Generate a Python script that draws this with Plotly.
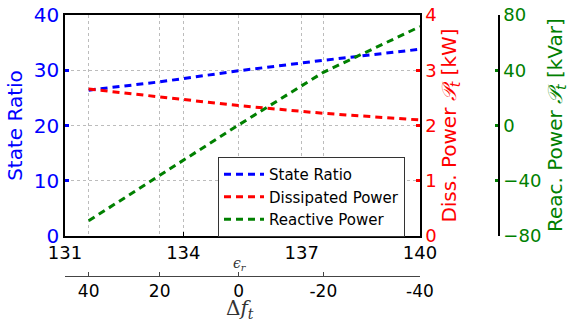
import plotly.graph_objects as go

# ---- data ----
eps_r = [131.6, 133.4, 135.4, 137.55, 140.0]          # epsilon_r sample points
state_ratio = [26.4, 27.9, 29.9, 31.8, 33.8]
diss_power = [2.66, 2.52, 2.36, 2.22, 2.10]           # kW
reactive_power = [-69, -36, 0.4, 38.5, 71.6]          # kVar

eps_ticks = [131, 134, 137, 140]
df_tick_eps = [131.6, 133.4, 135.4, 137.55, 140.0]
df_tick_labels = ["40", "20", "0", "-20", "-40"]

BLUE, RED, GREEN = "#0000ff", "#ff0000", "#008000"
FONT = "DejaVu Sans"

W, H = 569, 324
ml, mr, mt, mb = 65, 0, 15, 48
pw = W - ml - mr
ph = H - mt - mb
x_dom_end = (420 - ml) / pw
y_dom_start = (276 - 236) / ph
green_pos = (499 - ml) / pw

dash = "7px,5px"
fig = go.Figure()
fig.add_trace(go.Scatter(x=eps_r, y=state_ratio, mode="lines", name="State Ratio",
                         line=dict(color=BLUE, width=3, dash=dash), xaxis="x", yaxis="y"))
fig.add_trace(go.Scatter(x=eps_r, y=diss_power, mode="lines", name="Dissipated Power",
                         line=dict(color=RED, width=3, dash=dash), xaxis="x", yaxis="y2"))
fig.add_trace(go.Scatter(x=eps_r, y=reactive_power, mode="lines", name="Reactive Power",
                         line=dict(color=GREEN, width=3, dash=dash), xaxis="x", yaxis="y3"))
# invisible trace for second x axis
fig.add_trace(go.Scatter(x=[131, 140], y=[0, 0], mode="markers", marker=dict(opacity=0),
                         showlegend=False, hoverinfo="skip", xaxis="x2", yaxis="y"))

grid = dict(showgrid=True, gridcolor="#bcbcbc", griddash="dot", gridwidth=1)

fig.update_layout(
    width=W, height=H,
    margin=dict(l=ml, r=mr, t=mt, b=mb, pad=0, autoexpand=False),
    paper_bgcolor="white", plot_bgcolor="white",
    font=dict(family=FONT, size=17, color="black"),
    showlegend=True,
    legend=dict(x=(218 - ml) / pw, y=1 - (157 - mt) / ph, xanchor="left", yanchor="top",
                bordercolor="#333333", borderwidth=1, bgcolor="white",
                font=dict(size=15, family=FONT), tracegroupgap=0, itemwidth=40),
    xaxis=dict(domain=[0, x_dom_end], range=[131, 140], tickvals=eps_ticks, automargin=False,
               ticks="inside", ticklen=4, tickcolor="black", tickwidth=1,
               showline=True, linecolor="black", linewidth=1.5, mirror=True,
               tickfont=dict(size=18, color="black"), anchor="y",
               zeroline=False, **grid),
    xaxis2=dict(domain=[0, x_dom_end], range=[131, 140], overlaying="x", anchor="free", position=0,
                side="bottom", tickvals=df_tick_eps, ticktext=df_tick_labels, automargin=False,
                ticks="inside", ticklen=4, tickcolor="#444", tickwidth=1,
                showline=True, linecolor="#444", linewidth=1,
                tickfont=dict(size=17, color="black"),
                zeroline=False, **grid),
    yaxis=dict(domain=[y_dom_start, 1], range=[0, 40], tickvals=[0, 10, 20, 30, 40], automargin=False,
               ticks="inside", ticklen=4, tickwidth=3, tickcolor=BLUE,
               showline=True, linecolor="black", linewidth=1.5,
               tickfont=dict(size=20, color=BLUE),
               title=dict(text="State Ratio", font=dict(size=20, color=BLUE), standoff=6),
               zeroline=False, **grid),
    yaxis2=dict(domain=[y_dom_start, 1], range=[0, 4], tickvals=[0, 1, 2, 3, 4], automargin=False,
                overlaying="y", side="right", anchor="x",
                ticks="inside", ticklen=4, tickwidth=3, tickcolor=RED,
                showline=True, linecolor="black", linewidth=1.5,
                tickfont=dict(size=18, color=RED),
                title=dict(text="Diss. Power <i>𝒫</i><sub><i>t</i></sub> [kW]",
                           font=dict(size=20, color=RED), standoff=6),
                showgrid=False, zeroline=False),
    yaxis3=dict(domain=[y_dom_start, 1], range=[-80, 80], tickvals=[-80, -40, 0, 40, 80],
                ticktext=["−80", "−40", "0", "40", "80"], automargin=False,
                overlaying="y", side="right", anchor="free", position=green_pos,
                ticks="inside", ticklen=3, tickwidth=3, tickcolor=GREEN,
                showline=True, linecolor="black", linewidth=1.5,
                tickfont=dict(size=18, color=GREEN),
                showgrid=False, zeroline=False),
    annotations=[
        dict(text="<i>ϵ</i><sub><i>r</i></sub>", xref="paper", yref="paper",
             x=(240 - ml) / pw, y=1 - (264 - mt) / ph, xanchor="center", yanchor="middle",
             showarrow=False, font=dict(size=14, family="DejaVu Serif", color="#333")),
        dict(text="Δ<i>f</i><sub><i>t</i></sub>", xref="paper", yref="paper",
             x=(240 - ml) / pw, y=1 - (309 - mt) / ph, xanchor="center", yanchor="middle",
             showarrow=False, font=dict(size=20, family="DejaVu Serif", color="#333")),
        dict(text="Reac. Power <i>𝒫</i><sub><i>t</i></sub> [kVar]", xref="paper", yref="paper",
             x=(556 - ml) / pw, y=1 - (125 - mt) / ph, xanchor="center", yanchor="middle",
             textangle=-90, showarrow=False, font=dict(size=20, color=GREEN)),
    ],
)

fig.write_html("out.html", config={"displayModeBar": False},
               post_script="document.body.style.margin='0';document.body.style.padding='0';")
